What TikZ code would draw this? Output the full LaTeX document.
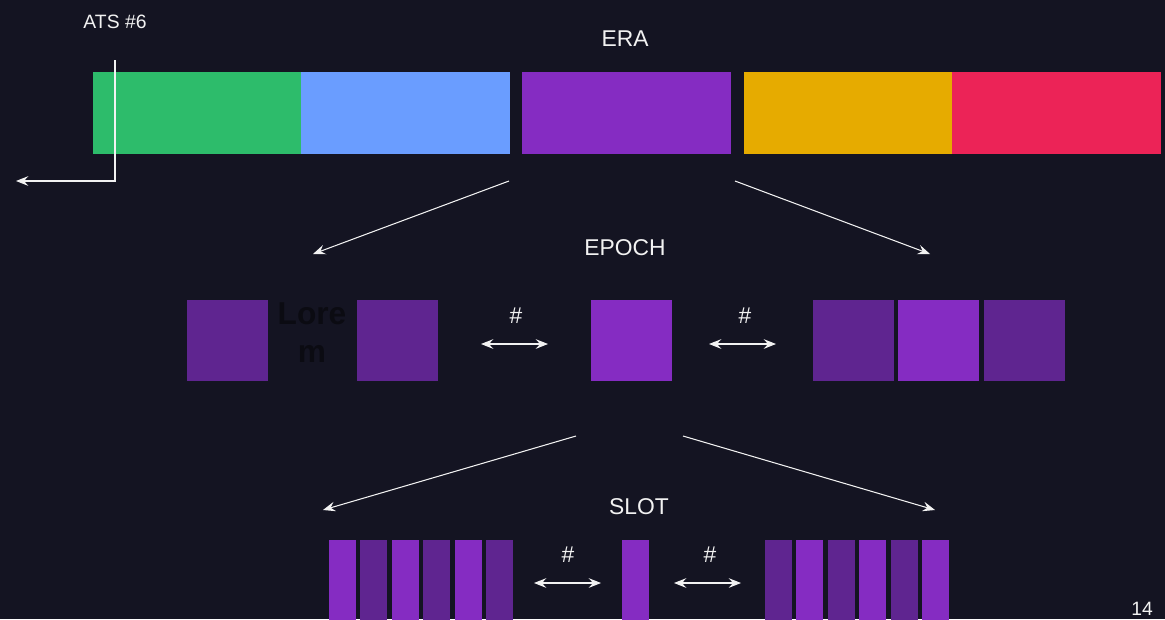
\documentclass[tikz,border=0pt]{standalone}
\usepackage{fontspec}
\setmainfont{Liberation Sans}
\usetikzlibrary{positioning, arrows.meta}
\definecolor{bgnavy}{HTML}{141422}
\definecolor{eragreen}{HTML}{2DBC6B}
\definecolor{erablue}{HTML}{6A9DFF}
\definecolor{erapurple}{HTML}{852CC2}
\definecolor{eraorange}{HTML}{E6AB00}
\definecolor{erared}{HTML}{EC2357}
\definecolor{lightslot}{HTML}{852CC2}
\definecolor{darkslot}{HTML}{5F2590}
\definecolor{textwhite}{HTML}{F2F2F2}
\definecolor{loremblack}{HTML}{0B0B12}
\tikzstyle{erabar} = [rectangle, minimum width=4.16cm, minimum height=1.62cm, inner sep=0pt, line width=0.3pt]
\tikzstyle{epochbox} = [rectangle, minimum width=1.62cm, minimum height=1.62cm, inner sep=0pt]
\tikzstyle{slotbar} = [rectangle, minimum width=0.54cm, minimum height=1.7cm, inner sep=0pt, anchor=north west]
\tikzstyle{heading} = [text=textwhite, anchor=base, inner sep=0pt, font=\fontsize{13}{15}\selectfont]
\tikzstyle{smalltext} = [text=textwhite, anchor=base, inner sep=0pt, font=\fontsize{11}{13}\selectfont]
\tikzstyle{arrow} = [textwhite, line width=0.6pt, ->, >={Stealth[length=7pt, width=5.5pt, inset=2.5pt]}]
\tikzstyle{twoway} = [arrow, <->]

\begin{document}
\begin{tikzpicture}[x=0.02cm, y=-0.02cm]

\fill[bgnavy] (0,0) rectangle (1165,619);
\useasboundingbox (0,0) rectangle (1165,619);

% era
\node (era) [heading] at (625,46) {ERA};
\node (green) [erabar, fill=eragreen, draw=eragreen] at (197,112.5) {};
\node (blue) [erabar, fill=erablue, draw=erablue] at (405,112.5) {};
\node (purple) [erabar, fill=erapurple, draw=erapurple] at (626,112.5) {};
\node (orange) [erabar, fill=eraorange, draw=eraorange] at (848,112.5) {};
\node (red) [erabar, fill=erared, draw=erared] at (1056,112.5) {};

\node (ats) [smalltext] at (115,28) {ATS \#6};
\coordinate (atstop) at (115,60);
\coordinate (atsend) at (16,181);
\draw [arrow] (atstop) |- (atsend);

% era to epoch
\coordinate (eraL) at (509,181);
\coordinate (eraR) at (735,181);
\coordinate (epochL) at (313,254);
\coordinate (epochR) at (930,254);
\draw [arrow] (eraL) -- (epochL);
\draw [arrow] (eraR) -- (epochR);

% epoch
\node (epoch) [heading] at (625,255) {EPOCH};
\node (ep1) [epochbox, fill=darkslot] at (227.5,340.5) {};
\node (lorem) [font=\bfseries\fontsize{18}{21.5}\selectfont, text=loremblack, align=center, inner sep=0pt] at (312,333) {Lore\\m};
\node (ep2) [epochbox, fill=darkslot] at (397.5,340.5) {};
\node (ep3) [epochbox, fill=lightslot] at (631.5,340.5) {};
\node (ep4) [epochbox, fill=darkslot] at (853.5,340.5) {};
\node (ep5) [epochbox, fill=lightslot] at (938.5,340.5) {};
\node (ep6) [epochbox, fill=darkslot] at (1024.5,340.5) {};

\node (hashA) [heading] at (516,323) {\#};
\node (hashB) [heading] at (745,323) {\#};
\coordinate (gapAl) at (481,344);
\coordinate (gapAr) at (548,344);
\coordinate (gapBl) at (709,344);
\coordinate (gapBr) at (776,344);
\draw [twoway] (gapAl) -- (gapAr);
\draw [twoway] (gapBl) -- (gapBr);

% epoch to slot
\coordinate (epL) at (576,436);
\coordinate (epR) at (683,436);
\coordinate (slotL) at (323,510);
\coordinate (slotR) at (935,510);
\draw [arrow] (epL) -- (slotL);
\draw [arrow] (epR) -- (slotR);

% slot
\node (slot) [heading] at (639,514) {SLOT};
\node (s1) [slotbar, fill=lightslot] at (329,540) {};
\node (s2) [slotbar, fill=darkslot] at (360,540) {};
\node (s3) [slotbar, fill=lightslot] at (392,540) {};
\node (s4) [slotbar, fill=darkslot] at (423,540) {};
\node (s5) [slotbar, fill=lightslot] at (455,540) {};
\node (s6) [slotbar, fill=darkslot] at (486,540) {};
\node (s7) [slotbar, fill=lightslot] at (622,540) {};
\node (s8) [slotbar, fill=darkslot] at (765,540) {};
\node (s9) [slotbar, fill=lightslot] at (796,540) {};
\node (s10) [slotbar, fill=darkslot] at (828,540) {};
\node (s11) [slotbar, fill=lightslot] at (859,540) {};
\node (s12) [slotbar, fill=darkslot] at (891,540) {};
\node (s13) [slotbar, fill=lightslot] at (922,540) {};

\node (hashC) [heading] at (568,562) {\#};
\node (hashD) [heading] at (710,562) {\#};
\coordinate (gapCl) at (534,583);
\coordinate (gapCr) at (601,583);
\coordinate (gapDl) at (674,583);
\coordinate (gapDr) at (741,583);
\draw [twoway] (gapCl) -- (gapCr);
\draw [twoway] (gapDl) -- (gapDr);

\node (page) [smalltext] at (1142,615) {14};

\end{tikzpicture}
\end{document}
